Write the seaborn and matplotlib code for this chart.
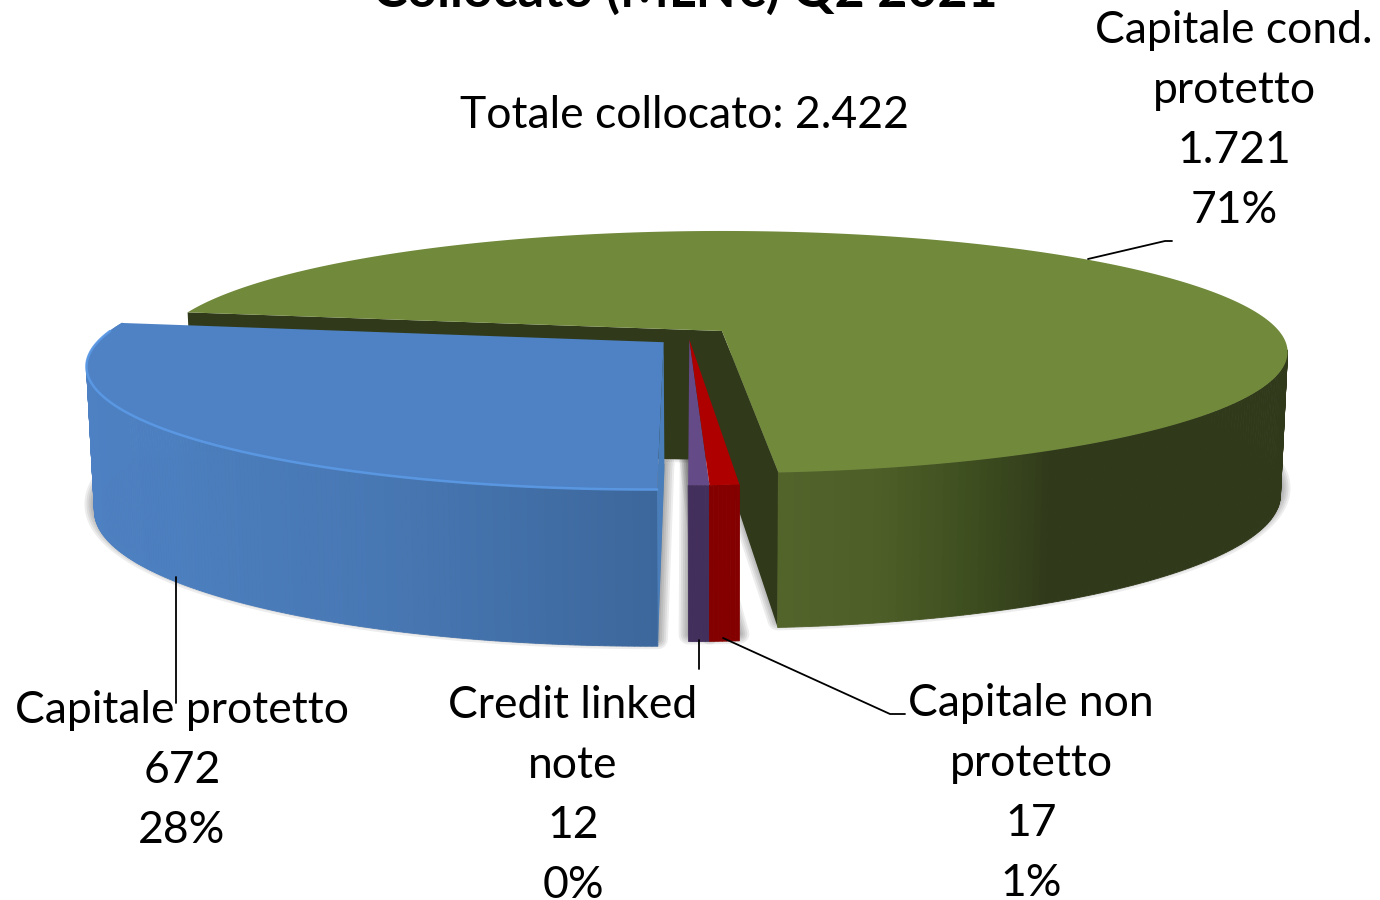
import numpy as np
import matplotlib
matplotlib.use("Agg")
import matplotlib.pyplot as plt
import seaborn as sns

title = "Collocato (MLN€) Q2 2021"
total_label = "Totale collocato: 2.422"
categories = ["Capitale cond.\nprotetto", "Capitale protetto", "Credit linked\nnote", "Capitale non\nprotetto"]
values = [1721, 672, 12, 17]
top_colors = ["#71893A", "#4E82C5", "#654A88", "#AF0000"]
wall_colors = [
    ["#52642A", "#4D5E27", "#3E4E1F", "#30391A", "#30391A", "#30391A", "#30391A", "#30391A", "#30391A", "#30391A"],
    ["#4F83C6", "#4E81C3", "#4C7FBF", "#4878B4", "#3C679C"],
    ["#432F5B", "#432F5B"],
    ["#840000", "#840000"],
]

# layout of the perspective projection (figure pixels)
CX, Y_TOP, Y_BOT, Y_APEX_BOT = 722, 331, 472, 460
A_TOP, A_BOT, B_TOP, B_BOT, K = 117.4, 129.0, 557.0, 550.0, 0.1736
START = -85.2
SHIFT = [(0, 0), (-0.103, -0.094), (-0.058, -0.07), (-0.058, -0.07)]
LABEL_X = [1234, 182, 573, 1031]
LABEL_Y = [43, 723, 718, 716]
LINE_H = 60
LEADERS = [
    ([1088, 1165, 1172], [259, 241, 241]),
    ([176, 176], [577, 703]),
    ([699, 699], [640, 669]),
    ([723, 890, 905], [638, 714, 714]),
]

sns.set_theme(style="white")
plt.rcParams["font.family"] = ["Lato", "DejaVu Sans"]

fig = plt.figure(figsize=(13.8, 9), dpi=100)
ax = fig.add_axes([0, 0, 1, 1])
ax.set_xlim(0, 1380)
ax.set_ylim(900, 0)
ax.axis("off")


def proj(x, y, bottom=False):
    w = 1 + K * y
    if bottom:
        return CX + B_BOT * x / w, Y_BOT - A_BOT * y / w
    return CX + B_TOP * x / w, Y_TOP - A_TOP * y / w


total = sum(values)
spans = [v / total * 360 for v in values]
starts = START + np.concatenate([[0], np.cumsum(spans)[:-1]])


def arc(i, n=None):
    n = n or max(int(spans[i]) + 2, 3)
    t = np.radians(np.linspace(starts[i], starts[i] + spans[i], n))
    return np.cos(t) + SHIFT[i][0], np.sin(t) + SHIFT[i][1]


def apex(i, bottom=False):
    X, Y = proj(SHIFT[i][0], SHIFT[i][1], bottom)
    if bottom:
        Y = Y_APEX_BOT - A_BOT * SHIFT[i][1] * 0.9
    return X, Y


# soft shadows under every piece
for i in range(4):
    x, y = arc(i)
    bx, by = proj(x, y, True)
    ax0, ay0 = apex(i, True)
    px = np.r_[ax0, bx, ax0]
    py = np.r_[ay0, by, ay0] - 7
    for lw in [20, 16, 12, 8, 4]:
        ax.plot(px, py, color="black", lw=lw * 0.72, alpha=0.07, solid_joinstyle="round", zorder=1)
    ax.fill(px, py, color="#777777", lw=0, zorder=1)

for i in range(4):
    z = 2 + i * 10
    x, y = arc(i)
    X, Y = proj(x, y)
    bX, bY = proj(x, y, True)
    aX, aY = apex(i)
    abX, abY = apex(i, True)

    # cut faces
    if i == 0:
        cut = "#30391A"
        ax.fill([aX, X[-1], bX[-1], abX], [aY, Y[-1], bY[-1], abY], color=cut, lw=0, zorder=z)
        ax.fill([aX, X[0], bX[0], abX], [aY, Y[0], bY[0], abY], color=cut, lw=0, zorder=z)
    if i == 1:
        ax.fill([aX, abX, bX[-1], X[-1]], [aY, abY, bY[-1], Y[-1]], color="#4A7EBB", lw=0, zorder=z + 2)

    # outer wall, thin strips shaded along the arc (green stops at its silhouette)
    if i == 0:
        t = np.radians(np.linspace(starts[0], -9.0, 110))
        wx, wy = np.cos(t), np.sin(t)
    else:
        wx, wy = arc(i, int(spans[i] * 2) + 3)
    wX, wY = proj(wx, wy)
    wbX, wbY = proj(wx, wy, True)
    pal = sns.blend_palette(wall_colors[i], len(wx))
    for j in range(len(wx) - 1):
        ax.fill([wX[j], wX[j + 1], wbX[j + 1], wbX[j]], [wY[j], wY[j + 1], wbY[j + 1], wbY[j]],
                color=pal[j], lw=0.6, zorder=z + 1)

    # top face
    ax.fill(np.r_[aX, X], np.r_[aY, Y], color=top_colors[i], lw=0, zorder=z + 3)

    if i == 1:
        ax.plot(X[4:], Y[4:], color="#5C9AE6", lw=1.8, alpha=0.9, zorder=z + 4)

for (lx, ly) in LEADERS:
    ax.plot(lx, ly, color="black", lw=1.3, zorder=60, solid_joinstyle="round")


def fmt(v):
    return f"{v:,}".replace(",", ".")


FS = 32
for i in range(4):
    lines = categories[i].split("\n") + [fmt(values[i]), f"{round(values[i] / total * 100)}%"]
    for k, s in enumerate(lines):
        ax.text(LABEL_X[i], LABEL_Y[i] + k * LINE_H, s, ha="center", va="baseline",
                fontsize=FS, color="black", zorder=70)
ax.text(684, 128, total_label, ha="center", va="baseline", fontsize=FS, color="black", zorder=70)
ax.text(685, 7, title, ha="center", va="baseline", fontsize=37.4, fontweight="bold", color="black", zorder=70)

fig.savefig("out.png", dpi=100, facecolor="white")
